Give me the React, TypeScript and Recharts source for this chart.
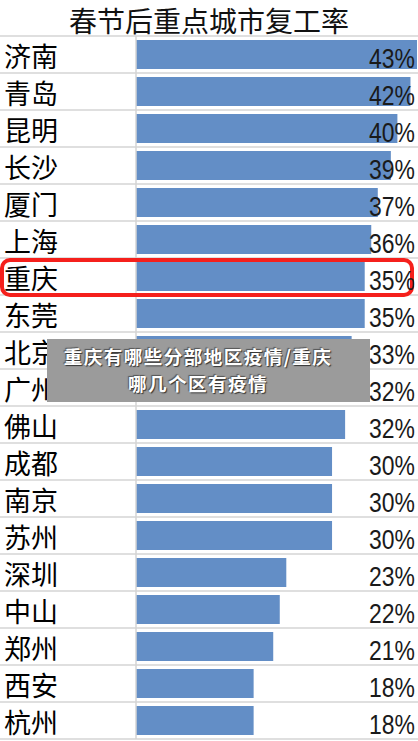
import React from 'react';
import { BarChart, Bar, XAxis, YAxis } from 'recharts';

const TITLE = '春节后重点城市复工率';
const CITIES = ['济南', '青岛', '昆明', '长沙', '厦门', '上海', '重庆', '东莞', '北京', '广州', '佛山', '成都', '南京', '苏州', '深圳', '中山', '郑州', '西安', '杭州'];
const RATES = [43, 42, 40, 39, 37, 36, 35, 35, 33, 32, 32, 30, 30, 30, 23, 22, 21, 18, 18];
const HIGHLIGHT = '重庆';
const OVERLAY_LINES = ['重庆有哪些分部地区疫情/重庆', '哪几个区有疫情'];

const data = CITIES.map((city, i) => ({ city, rate: RATES[i] }));

const W = 418;
const H = 741;
const MARGIN = { top: 36, right: 1, bottom: 2, left: 0 };
const BAND = (H - MARGIN.top - MARGIN.bottom) / CITIES.length;
const GRID = '#d4d4d4';
const CJK = '"Noto Sans CJK SC", "Noto Sans", sans-serif';

// city name + table row borders (+ red highlight box)
const CityTick = (props: any) => {
  const { y, payload, index } = props;
  const top = y - BAND / 2;
  const bottom = y + BAND / 2;
  return (
    <g>
      {index === 0 && <line x1={0} x2={W} y1={top} y2={top} stroke={GRID} strokeWidth={1.5} />}
      <line x1={0} x2={W} y1={bottom} y2={bottom} stroke={GRID} strokeWidth={1.5} />
      <text x={4} y={y + 12.5} fontSize={27} fontFamily={CJK} fill="#000">
        {payload.value}
      </text>
      {payload.value === HIGHLIGHT && (
        <rect x={2} y={top + 2} width={410} height={BAND - 2} rx={8} ry={8} fill="none" stroke="#f5201c" strokeWidth={4} />
      )}
    </g>
  );
};

// narrow-looking percent, right aligned at the table edge
const renderRate = (props: any) => {
  const { y, height, value, index } = props;
  return (
    <text
      key={`rate-${index}`}
      transform={`translate(${W - 3},${y + height / 2 + 13}) scale(0.85,1)`}
      textAnchor="end"
      fontSize={27}
      fontFamily='"Liberation Sans", Arial, sans-serif'
      fill="#1a1a1a"
    >
      {`${value}%`}
    </text>
  );
};

export default function App() {
  return (
    <div style={{ position: 'absolute', left: 0, top: 0, width: W, height: H, background: '#fff' }}>
      <div
        style={{
          position: 'absolute',
          left: 0,
          top: 0,
          width: W,
          lineHeight: '41px',
          textAlign: 'center',
          fontSize: 28,
          fontFamily: CJK,
          color: '#111',
        }}
      >
        {TITLE}
      </div>
      <BarChart width={W} height={H} data={data} layout="vertical" margin={MARGIN} barCategoryGap={4}>
        <XAxis type="number" domain={[0, 43]} hide />
        <YAxis
          type="category"
          dataKey="city"
          width={136}
          interval={0}
          tickLine={false}
          axisLine={{ stroke: GRID, strokeWidth: 1.5 }}
          tick={<CityTick />}
        />
        <Bar dataKey="rate" fill="#638ec6" isAnimationActive={false} label={renderRate} />
      </BarChart>
      {/* caption overlay */}
      <div
        style={{
          position: 'absolute',
          left: 47,
          top: 339,
          width: 323,
          height: 63,
          background: '#9b9b9b',
          boxSizing: 'border-box',
          paddingTop: 3,
          paddingRight: 21,
          textAlign: 'center',
          fontFamily: CJK,
          fontWeight: 700,
          fontSize: 18.6,
          letterSpacing: 1.4,
          lineHeight: '27px',
          color: '#fff',
          textShadow: '1px 1px 1px #333, -1px -1px 1px #555',
        }}
      >
        {OVERLAY_LINES.map((l) => (
          <div key={l}>{l}</div>
        ))}
      </div>
    </div>
  );
}
